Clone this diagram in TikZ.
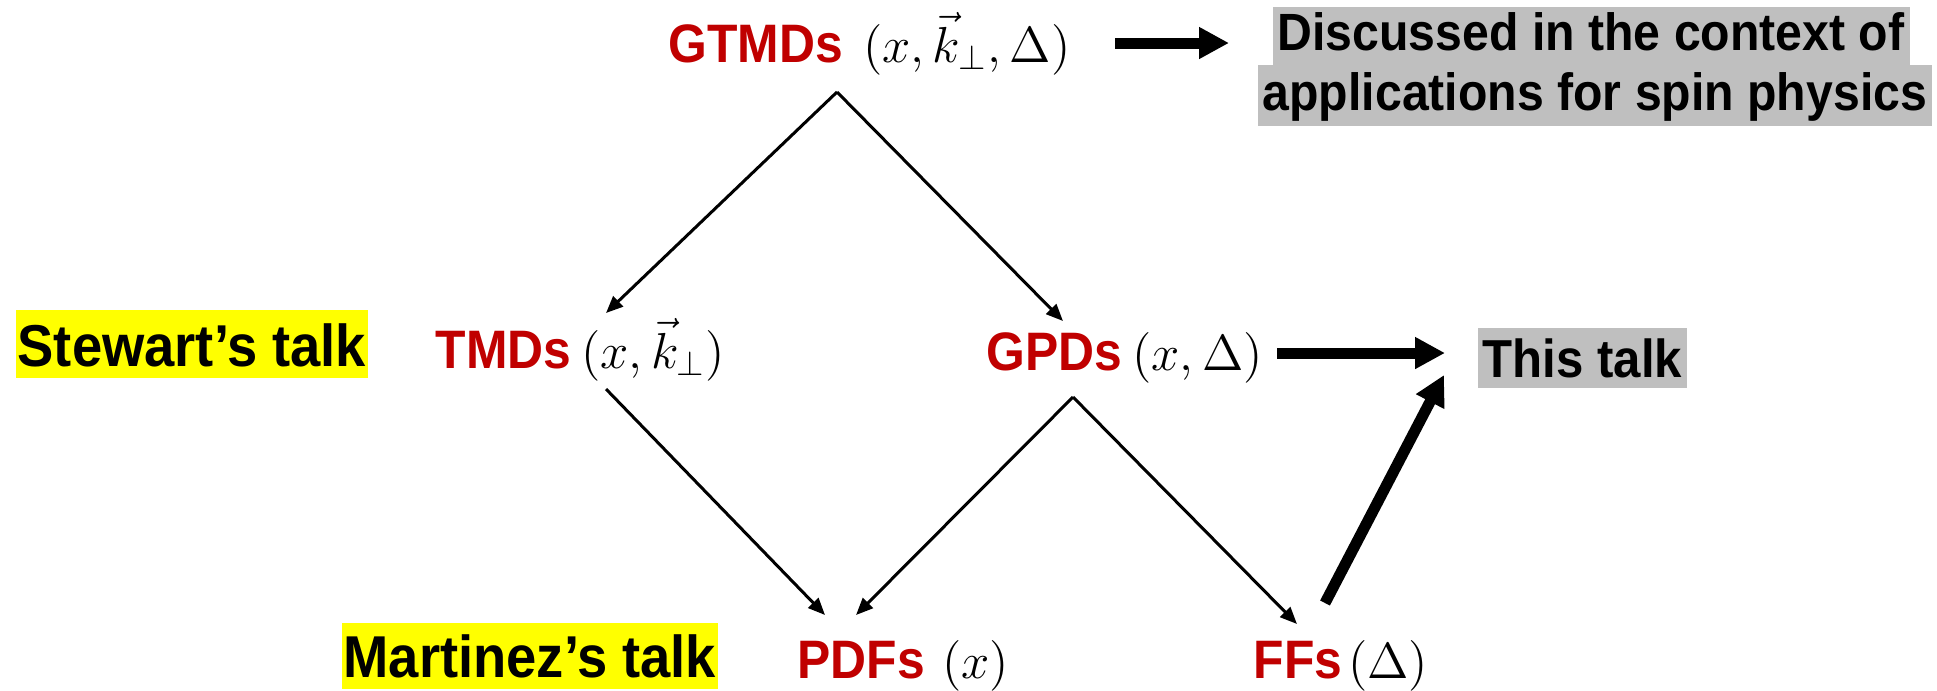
\documentclass[tikz,border=0pt]{standalone}
\usepackage[no-math]{fontspec}
\setmainfont{Liberation Sans}[FakeStretch=0.92]
\usetikzlibrary{arrows.meta,calc,positioning}

\definecolor{pptred}{RGB}{192,0,0}
\definecolor{boxgray}{RGB}{191,191,191}
\definecolor{hilite}{RGB}{255,255,0}

\newcommand{\dname}[1]{{\fontsize{15.4}{17}\selectfont\color{pptred}\bfseries #1}}

\tikzset{
    dist/.style={anchor=base west,inner sep=0pt,font=\fontsize{14.2}{17}\selectfont},
    talk/.style={anchor=base west,fill=hilite,inner xsep=0.02cm,inner ysep=0pt,
        font=\fontsize{16.8}{18}\selectfont\bfseries},
    note/.style={anchor=base west,fill=boxgray,inner xsep=0.05cm,inner ysep=0pt,
        font=\fontsize{14.9}{17}\selectfont\bfseries},
    thinarrow/.style={line width=0.03cm,-{Triangle[length=0.17cm,width=0.14cm]}},
    bigarrow/.style={line width=0.11cm,-{Triangle[length=0.3cm,width=0.3cm]}},
}

\begin{document}
\begin{tikzpicture}[x=0.01cm,y=-0.01cm]
    \useasboundingbox (0,0) rectangle (1937,690);

    % distributions
    \node[dist] (gtmd) at (668,62) {\dname{GTMDs}\hspace{0.2cm}$(x,\vec{k}_\perp,\Delta)$};
    \node[dist] (tmd) at (435,368) {\dname{TMDs}\hspace{0.1cm}$(x,\vec{k}_\perp)$};
    \node[dist] (gpd) at (986,370) {\dname{GPDs}\hspace{0.1cm}$(x,\Delta)$};
    \node[dist] (pdf) at (797,678) {\dname{PDFs}\hspace{0.17cm}$(x)$};
    \node[dist] (ff) at (1253,678) {\dname{FFs}\hspace{0.06cm}$(\Delta)$};

    % talks
    \node[talk,text height=0.56cm,text depth=0.12cm] (stewart) at (15,366) {Stewart's talk};
    \node[talk,text height=0.54cm,text depth=0.12cm] (martinez) at (341,677) {Martinez's talk};
    \node[note,text height=0.49cm,text depth=0.11cm,font=\fontsize{15.2}{17}\selectfont\bfseries] (thistalk) at (1477,377) {This talk};
    \node[note,text height=0.43cm,text depth=0.15cm] (disc1) at (1272,50) {Discussed in the context of};
    \node[note,text height=0.45cm,text depth=0.16cm] (disc2) at (1257,110) {applications for spin physics};

    % line ends
    \coordinate (gtmdfoot) at (837,92);
    \coordinate (tmdtop) at (606,313);
    \coordinate (gpdtop) at (1063,321);
    \coordinate (tmdfoot) at (606,389);
    \coordinate (gpdfoot) at (1073,397);
    \coordinate (pdftopl) at (825,615);
    \coordinate (pdftopr) at (856,615);
    \coordinate (fftop) at (1297,624);

    \coordinate (gtmdout) at (1115,43);
    \coordinate (discin) at (1229,43);
    \coordinate (gpdout) at (1277,353);
    \coordinate (thisin) at (1445,353);
    \coordinate (ffout) at (1325,603);
    \coordinate (thisup) at (1444,375);

    \draw[thinarrow] (gtmdfoot) -- (tmdtop);
    \draw[thinarrow] (gtmdfoot) -- (gpdtop);
    \draw[thinarrow] (tmdfoot) -- (pdftopl);
    \draw[thinarrow] (gpdfoot) -- (pdftopr);
    \draw[thinarrow] (gpdfoot) -- (fftop);

    \draw[bigarrow] (gtmdout) -- (discin);
    \draw[bigarrow] (gpdout) -- (thisin);
    \draw[bigarrow] (ffout) -- (thisup);
\end{tikzpicture}
\end{document}
